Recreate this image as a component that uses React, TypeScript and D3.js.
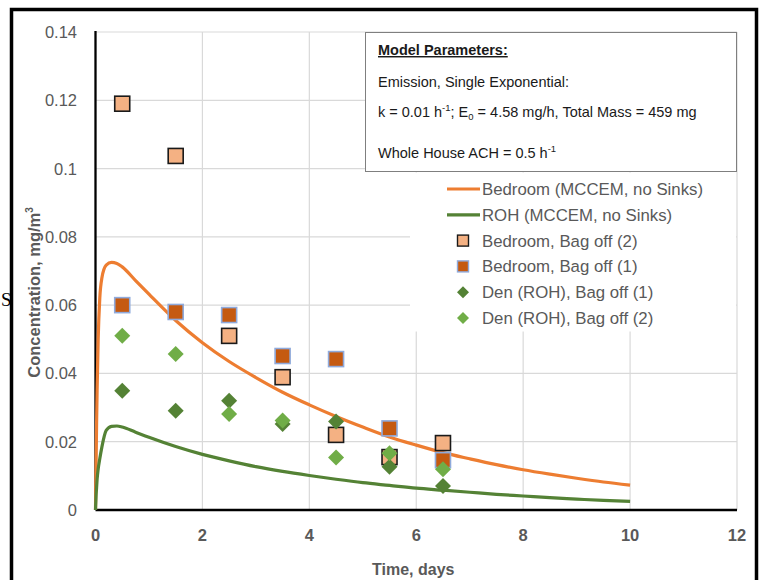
import React from "react";
import * as d3 from "d3";

// Measured samples (days, mg/m3)
const sampleDays = [0.5, 1.5, 2.5, 3.5, 4.5, 5.5, 6.5];
const bedroomBagOff2 = [0.119, 0.1037, 0.051, 0.0389, 0.022, 0.0155, 0.0196];
const bedroomBagOff1 = [0.06, 0.058, 0.0571, 0.0451, 0.0442, 0.0239, 0.0146];
const denBagOff1 = [0.0349, 0.0291, 0.032, 0.0252, 0.0259, 0.0127, 0.007];
const denBagOff2 = [0.051, 0.0457, 0.0281, 0.0262, 0.0154, 0.0166, 0.0119];

// MCCEM model output (days, mg/m3)
const modelDays = [
  0, 0.01, 0.02, 0.03, 0.05, 0.08, 0.12, 0.2, 0.3, 0.4, 0.5, 0.75, 1,
  1.5, 2, 2.5, 3, 3.5, 4, 4.5, 5, 5.5, 6, 6.5, 7, 7.5, 8, 8.5, 9, 9.5, 10,
];
const bedroomModel = [
  0, 0.012, 0.025, 0.035, 0.05, 0.062, 0.068, 0.0717, 0.0725, 0.0722, 0.0712, 0.0672, 0.0632,
  0.0555, 0.049, 0.0435, 0.0388, 0.0345, 0.0308, 0.0274, 0.0243, 0.0214, 0.019, 0.0168, 0.015,
  0.0133, 0.0118, 0.0105, 0.0093, 0.0082, 0.0073,
];
const rohModel = [
  0, 0.004, 0.0065, 0.009, 0.012, 0.015, 0.0185, 0.0233, 0.0245, 0.0246, 0.0243, 0.0228, 0.0213,
  0.0186, 0.0163, 0.0144, 0.0127, 0.0113, 0.0101, 0.009, 0.008, 0.0072, 0.0064, 0.0058, 0.0052,
  0.0046, 0.0041, 0.0036, 0.0032, 0.0028, 0.0025,
];

const xTicks = [0, 2, 4, 6, 8, 10, 12];
const yTicks = [0, 0.02, 0.04, 0.06, 0.08, 0.1, 0.12, 0.14];

const legendLabels = [
  "Bedroom (MCCEM, no Sinks)",
  "ROH (MCCEM, no Sinks)",
  "Bedroom, Bag off (2)",
  "Bedroom, Bag off (1)",
  "Den (ROH), Bag off (1)",
  "Den (ROH), Bag off (2)",
];

const ORANGE_LINE = "#ED7D31";
const GREEN_LINE = "#548235";
const LIGHT_SQ = "#F4B183";
const DARK_SQ = "#C55A11";
const DARK_DIA = "#548235";
const LIGHT_DIA = "#70AD47";
const GRAY_TEXT = "#595959";
const FONT = "'Liberation Sans', Arial, sans-serif";

const W = 762;
const H = 580;
const plot = { left: 95.5, right: 737, top: 32, bottom: 510 };

const x = d3.scaleLinear().domain([0, 12]).range([plot.left, plot.right]);
const y = d3.scaleLinear().domain([0, 0.14]).range([plot.bottom, plot.top]);

const line = d3
  .line<number>()
  .x((_, i) => x(modelDays[i]))
  .y((d) => y(d))
  .curve(d3.curveMonotoneX);

function Square({ cx, cy, fill, stroke }: { cx: number; cy: number; fill: string; stroke: string }) {
  const s = 15;
  return (
    <rect x={cx - s / 2} y={cy - s / 2} width={s} height={s} fill={fill} stroke={stroke} strokeWidth={1.6} />
  );
}

function Diamond({ cx, cy, fill, r = 8 }: { cx: number; cy: number; fill: string; r?: number }) {
  return <path d={`M${cx},${cy - r}L${cx + r},${cy}L${cx},${cy + r}L${cx - r},${cy}Z`} fill={fill} />;
}

export default function App() {
  const legendX = 447;
  const legendY0 = 189;
  const legendStep = 25.8;

  return (
    <svg width={W} height={H} style={{ position: "absolute", left: 0, top: 0, background: "#fff" }} fontFamily={FONT}>
      <rect x={0} y={0} width={W} height={H} fill="#fff" />

      {/* clipped fragment of neighbouring text */}
      <text x={1} y={306} fontFamily="'Liberation Serif', 'Times New Roman', serif" fontSize={19} fill="#000">
        S
      </text>

      {/* outer frame */}
      <rect x={11.5} y={9.5} width={745} height={620} fill="none" stroke="#000" strokeWidth={3.5} />

      {/* grid */}
      {yTicks.slice(1).map((t) => (
        <line key={"gy" + t} x1={plot.left} x2={plot.right} y1={y(t)} y2={y(t)} stroke="#D9D9D9" strokeWidth={1.2} />
      ))}
      {xTicks.slice(1).map((t) => (
        <line key={"gx" + t} x1={x(t)} x2={x(t)} y1={plot.top} y2={plot.bottom} stroke="#D9D9D9" strokeWidth={1.2} />
      ))}

      {/* axes */}
      <line x1={plot.left} x2={plot.left} y1={plot.top - 1} y2={plot.bottom} stroke="#000" strokeWidth={2.3} />
      <line x1={plot.left} x2={plot.right} y1={plot.bottom} y2={plot.bottom} stroke="#000" strokeWidth={2.3} />

      {/* tick labels */}
      {yTicks.map((t) => (
        <text key={"ty" + t} x={77} y={y(t) + 6} textAnchor="end" fontSize={16.5} fill={GRAY_TEXT}>
          {d3.format("~g")(t)}
        </text>
      ))}
      {xTicks.map((t) => (
        <text key={"tx" + t} x={x(t)} y={541} textAnchor="middle" fontSize={16.5} fontWeight="bold" fill={GRAY_TEXT}>
          {t}
        </text>
      ))}

      {/* axis titles */}
      <text x={x(6) - 3} y={575} textAnchor="middle" fontSize={16} fontWeight="bold" fill={GRAY_TEXT}>
        Time, days
      </text>
      <text
        transform="translate(40,292.5) rotate(-90)"
        textAnchor="middle"
        fontSize={16.5}
        fontWeight="bold"
        fill={GRAY_TEXT}
      >
        Concentration, mg/m<tspan fontSize={10} dy={-7}>3</tspan>
      </text>

      {/* model curves */}
      <path d={line(bedroomModel) || ""} fill="none" stroke={ORANGE_LINE} strokeWidth={3.2} />
      <path d={line(rohModel) || ""} fill="none" stroke={GREEN_LINE} strokeWidth={3.2} />

      {/* measured samples */}
      {bedroomBagOff2.map((v, i) => (
        <Square key={"b2" + i} cx={x(sampleDays[i])} cy={y(v)} fill={LIGHT_SQ} stroke="#1a1a1a" />
      ))}
      {bedroomBagOff1.map((v, i) => (
        <Square key={"b1" + i} cx={x(sampleDays[i])} cy={y(v)} fill={DARK_SQ} stroke="#8FAADC" />
      ))}
      {denBagOff1.map((v, i) => (
        <Diamond key={"d1" + i} cx={x(sampleDays[i])} cy={y(v)} fill={DARK_DIA} />
      ))}
      {denBagOff2.map((v, i) => (
        <Diamond key={"d2" + i} cx={x(sampleDays[i])} cy={y(v)} fill={LIGHT_DIA} />
      ))}

      {/* parameter box */}
      <rect x={365.5} y={32.5} width={371} height={139} fill="#fff" stroke="#7F7F7F" strokeWidth={1} />
      <g fontSize={14.5} fill="#1a1a1a">
        <text x={378} y={55} fontWeight="bold" textDecoration="underline">
          Model Parameters:
        </text>
        <text x={378} y={87}>Emission, Single Exponential:</text>
        <text x={378} y={117}>
          k = 0.01 h<tspan fontSize={9.5} dy={-6}>-1</tspan>
          <tspan dy={6}>; E</tspan>
          <tspan fontSize={9.5} dy={3}>0</tspan>
          <tspan dy={-3}>{"  =  4.58 mg/h, Total Mass = 459 mg"}</tspan>
        </text>
        <text x={378} y={158}>
          Whole House ACH = 0.5 h<tspan fontSize={9.5} dy={-6}>-1</tspan>
        </text>
      </g>

      {/* legend */}
      <rect x={410} y={172.5} width={326} height={159} fill="#fff" />
      {legendLabels.map((label, i) => {
        const cy = legendY0 + i * legendStep;
        const mx = legendX + 16;
        let mark: React.ReactNode = null;
        if (i === 0) mark = <line x1={legendX} x2={legendX + 33} y1={cy} y2={cy} stroke={ORANGE_LINE} strokeWidth={3.2} />;
        if (i === 1) mark = <line x1={legendX} x2={legendX + 33} y1={cy} y2={cy} stroke={GREEN_LINE} strokeWidth={3.2} />;
        if (i === 2) mark = <rect x={mx - 5.5} y={cy - 5.5} width={11} height={11} fill={LIGHT_SQ} stroke="#1a1a1a" strokeWidth={1.4} />;
        if (i === 3) mark = <rect x={mx - 5.5} y={cy - 5.5} width={11} height={11} fill={DARK_SQ} stroke="#8FAADC" strokeWidth={1.4} />;
        if (i === 4) mark = <Diamond cx={mx} cy={cy} fill={DARK_DIA} r={6} />;
        if (i === 5) mark = <Diamond cx={mx} cy={cy} fill={LIGHT_DIA} r={6} />;
        return (
          <g key={label}>
            {mark}
            <text x={482} y={cy + 6} fontSize={16.8} fill={GRAY_TEXT}>
              {label}
            </text>
          </g>
        );
      })}
    </svg>
  );
}
